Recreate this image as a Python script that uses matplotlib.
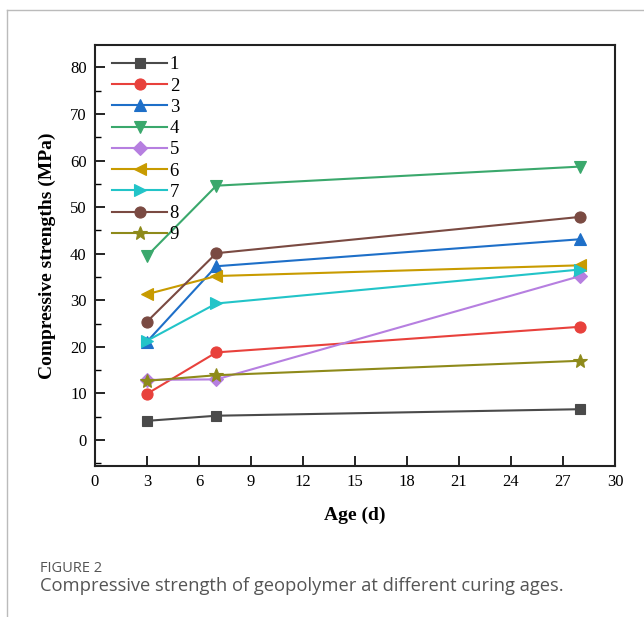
import matplotlib
matplotlib.use("Agg")
import matplotlib.pyplot as plt
from matplotlib.lines import Line2D
from matplotlib.ticker import MultipleLocator

ages = [3, 7, 28]
labels = ["1", "2", "3", "4", "5", "6", "7", "8", "9"]
s1 = [4.1, 5.2, 6.6]
s2 = [9.9, 18.8, 24.3]
s3 = [21.1, 37.3, 43.1]
s4 = [39.5, 54.6, 58.7]
s5 = [12.9, 13.0, 35.2]
s6 = [31.3, 35.2, 37.5]
s7 = [21.3, 29.3, 36.6]
s8 = [25.4, 40.1, 47.9]
s9 = [12.7, 13.9, 17.0]
series = [s1, s2, s3, s4, s5, s6, s7, s8, s9]
colors = ["#4a4a4a", "#e8413c", "#1e6fc8", "#3aa86c", "#b67fe0",
          "#c89b00", "#22c4c8", "#7a4a42", "#8e8a1a"]
markers = ["s", "o", "^", "v", "D", "<", ">", "o", "*"]
msizes = [7, 8, 8, 8, 7, 8, 8, 8, 10]

serif = ["Liberation Serif", "DejaVu Serif"]
plt.rcParams["font.family"] = serif

fig = plt.figure(figsize=(6.44, 6.17), dpi=100)
ax = fig.add_axes([0.1475, 0.2447, 0.8075, 0.6823])

for ys, c, m, ms, lab in zip(series, colors, markers, msizes, labels):
    ax.plot(ages, ys, color=c, marker=m, markersize=ms, linewidth=1.5,
            label=lab, markeredgewidth=0.8)

ax.set_xlim(0, 30)
ax.set_ylim(-5.6, 84.8)
ax.xaxis.set_major_locator(MultipleLocator(3))
ax.set_yticks(range(0, 81, 10))
ax.yaxis.set_minor_locator(MultipleLocator(5))
ax.tick_params(axis="both", which="major", direction="in", length=7, width=1.2,
               labelsize=12, top=False, right=False, pad=6)
ax.tick_params(axis="y", which="minor", direction="in", length=4, width=1.0,
               right=False)
for sp in ax.spines.values():
    sp.set_linewidth(1.5)
    sp.set_color("#222222")

ax.set_xlabel("Age (d)", fontsize=14, fontweight="bold", labelpad=12)
ax.set_ylabel("Compressive strengths (MPa)", fontsize=14, fontweight="bold",
              labelpad=10)

leg = ax.legend(loc="upper left", frameon=False, prop={"size": 13.5},
                handlelength=2.9, handletextpad=0.15, labelspacing=0.22,
                borderaxespad=0.2, bbox_to_anchor=(0.012, 1.0))

# card border lines (top and left)
fig.add_artist(Line2D([0.011, 1.0], [0.983, 0.983], color="#bbbbbb", linewidth=1.0,
                      transform=fig.transFigure))
fig.add_artist(Line2D([0.011, 0.011], [0.0, 0.983], color="#bbbbbb", linewidth=1.0,
                      transform=fig.transFigure))

sans = ["Open Sans", "DejaVu Sans"]
fig.text(0.062, 0.078, "FIGURE 2", fontsize=10.5, color="#555555",
         family=sans, va="center")
fig.text(0.062, 0.050, "Compressive strength of geopolymer at different curing ages.",
         fontsize=13.2, color="#555555", family=sans, va="center")

fig.savefig("out.png", dpi=100, facecolor="white")
